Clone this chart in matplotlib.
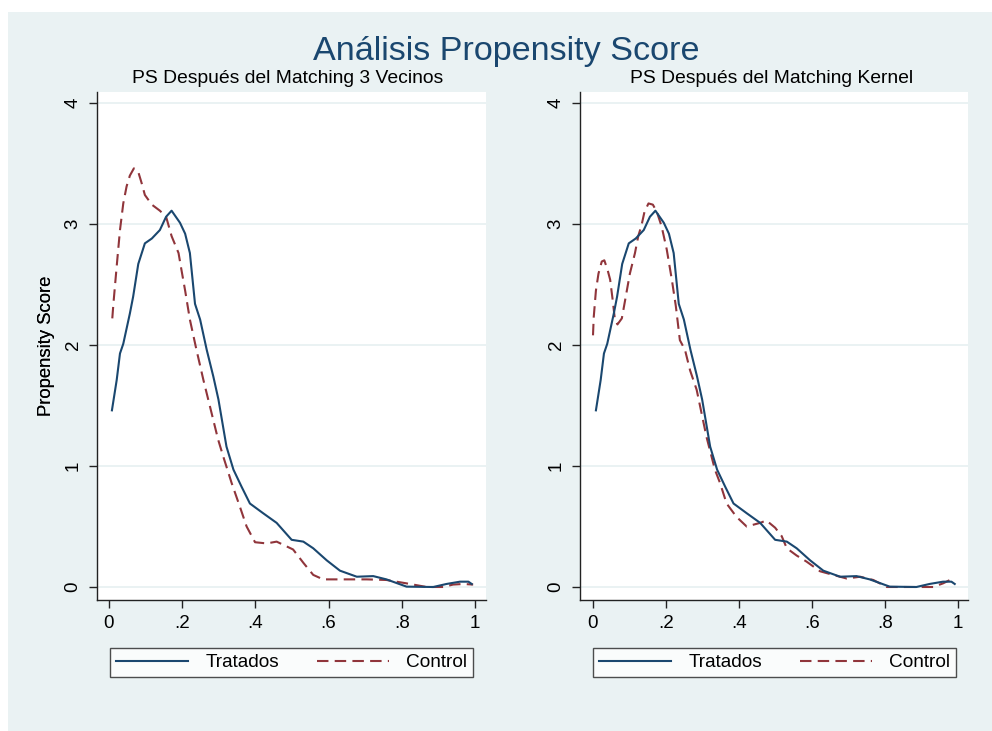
import matplotlib
matplotlib.use("Agg")
import matplotlib.pyplot as plt
from matplotlib.patches import Rectangle

plt.rcParams['font.family'] = ['Liberation Sans', 'DejaVu Sans']

# densidad del propensity score, tratados (igual en los dos paneles)
tratados_x = [0.008, 0.021, 0.030, 0.039, 0.057, 0.066, 0.080, 0.098, 0.117, 0.139,
              0.156, 0.171, 0.194, 0.208, 0.221, 0.235, 0.249, 0.267, 0.285, 0.299,
              0.321, 0.340, 0.362, 0.385, 0.421, 0.458, 0.499, 0.531, 0.558, 0.595,
              0.631, 0.677, 0.722, 0.758, 0.813, 0.886, 0.922, 0.959, 0.982, 0.991]
tratados_y = [1.46, 1.71, 1.93, 2.01, 2.26, 2.40, 2.67, 2.84, 2.88, 2.95,
              3.06, 3.11, 3.01, 2.92, 2.76, 2.34, 2.21, 1.96, 1.74, 1.55,
              1.16, 0.97, 0.83, 0.69, 0.61, 0.53, 0.39, 0.375, 0.32, 0.22,
              0.135, 0.085, 0.09, 0.063, 0.003, 0.0, 0.025, 0.044, 0.044, 0.025]

# control, matching 3 vecinos
control_vec_x = [0.009, 0.012, 0.021, 0.030, 0.039, 0.048, 0.057, 0.068, 0.080, 0.089,
                 0.098, 0.117, 0.139, 0.156, 0.171, 0.190, 0.198, 0.208, 0.221, 0.239,
                 0.258, 0.276, 0.298, 0.312, 0.335, 0.358, 0.376, 0.399, 0.431, 0.458,
                 0.503, 0.531, 0.558, 0.585, 0.649, 0.704, 0.758, 0.813, 0.868, 0.913,
                 0.940, 0.968, 0.995]
control_vec_y = [2.22, 2.34, 2.65, 2.95, 3.17, 3.31, 3.40, 3.46, 3.43, 3.34,
                 3.24, 3.16, 3.11, 3.06, 2.90, 2.76, 2.62, 2.45, 2.21, 1.96,
                 1.71, 1.49, 1.22, 1.08, 0.86, 0.66, 0.50, 0.37, 0.36, 0.375,
                 0.31, 0.20, 0.10, 0.063, 0.063, 0.063, 0.058, 0.03, 0.0, 0.0,
                 0.02, 0.025, 0.02]

# control, matching kernel
control_ker_x = [0.0, 0.002, 0.008, 0.015, 0.024, 0.031, 0.040, 0.047, 0.054, 0.060,
                 0.067, 0.079, 0.088, 0.101, 0.115, 0.124, 0.133, 0.141, 0.152, 0.164,
                 0.175, 0.188, 0.202, 0.216, 0.227, 0.238, 0.252, 0.266, 0.284, 0.311,
                 0.334, 0.348, 0.366, 0.393, 0.421, 0.458, 0.475, 0.499, 0.517, 0.531,
                 0.558, 0.585, 0.622, 0.658, 0.695, 0.732, 0.768, 0.805, 0.868, 0.932,
                 0.959, 0.986]
control_ker_y = [2.08, 2.23, 2.45, 2.59, 2.69, 2.70, 2.62, 2.54, 2.37, 2.21,
                 2.17, 2.22, 2.37, 2.59, 2.76, 2.90, 2.99, 3.10, 3.17, 3.16,
                 3.10, 2.98, 2.79, 2.54, 2.32, 2.04, 1.96, 1.79, 1.63, 1.24,
                 0.97, 0.86, 0.69, 0.58, 0.50, 0.53, 0.55, 0.49, 0.42, 0.32,
                 0.26, 0.21, 0.13, 0.10, 0.07, 0.085, 0.058, 0.0, 0.0, 0.0,
                 0.03, 0.07]

x_ticks = [0, 0.2, 0.4, 0.6, 0.8, 1]
x_labels = ['0', '.2', '.4', '.6', '.8', '1']
y_ticks = [0, 1, 2, 3, 4]
y_labels = ['0', '1', '2', '3', '4']

titulo = 'Análisis Propensity Score'
subtitulos = ['PS Después del Matching 3 Vecinos', 'PS Después del Matching Kernel']

navy = '#1a476f'
maroon = '#90353b'
bg = '#eaf2f3'

W, H = 992, 731
fig = plt.figure(figsize=(W / 100, H / 100), dpi=100, facecolor='white')
# fondo gris azulado estilo stata
fig.patches.append(Rectangle((8 / W, 0), 1 - 8 / W, 1 - 12 / H, transform=fig.transFigure,
                             facecolor=bg, edgecolor='none', zorder=-10))

fig.text(506 / W, 1 - 60 / H, titulo, ha='center', va='baseline', fontsize=24.6, color=navy)

# px -> limites de cada panel
paneles = [
    dict(left=97, right=486, x0=109, scale=366, sub_x=288,
         cx=control_vec_x, cy=control_vec_y, leg=(110, 473)),
    dict(left=580, right=968, x0=593, scale=365, sub_x=772,
         cx=control_ker_x, cy=control_ker_y, leg=(593, 956)),
]
top_px, bot_px = 92, 600
y0_px, yscale = 587, 121

for i, p in enumerate(paneles):
    ax = fig.add_axes([p['left'] / W, (H - bot_px) / H,
                       (p['right'] - p['left']) / W, (bot_px - top_px) / H])
    ax.set_facecolor('white')
    ax.set_xlim((p['left'] - p['x0']) / p['scale'], (p['right'] - p['x0']) / p['scale'])
    ax.set_ylim(-(bot_px - y0_px) / yscale, 4 + (103 - top_px) / yscale)

    for yt in y_ticks:
        ax.axhline(yt, color=bg, lw=1.4, zorder=1)

    ax.plot(tratados_x, tratados_y, color=navy, lw=1.5, label='Tratados', zorder=3)
    ln, = ax.plot(p['cx'], p['cy'], color=maroon, lw=1.5, label='Control', zorder=2)
    ln.set_dashes([5.5, 3])

    for s in ['top', 'right']:
        ax.spines[s].set_visible(False)
    for s in ['left', 'bottom']:
        ax.spines[s].set_color('#222222')
        ax.spines[s].set_linewidth(1.0)

    ax.set_xticks(x_ticks)
    ax.set_xticklabels(x_labels)
    ax.set_yticks(y_ticks)
    ax.set_yticklabels(y_labels, rotation=90, va='center')
    ax.tick_params(axis='both', direction='out', length=6, width=1.0,
                   color='#222222', labelsize=13.5, labelcolor='black')
    ax.tick_params(axis='x', pad=5)
    ax.tick_params(axis='y', pad=5)

    ax.set_ylabel('Propensity Score', fontsize=13.3)
    ax.yaxis.set_label_coords((55 - p['left']) / (p['right'] - p['left']), 0.5)

    fig.text(p['sub_x'] / W, 1 - 83 / H, subtitulos[i], ha='center', va='baseline',
             fontsize=13.9, color='black')

    lx0, lx1 = p['leg']
    leg = ax.legend(loc='center', ncol=2, mode='expand',
                    bbox_to_anchor=(lx0 / W, (H - 679) / H, (lx1 - lx0) / W, 33 / H),
                    bbox_transform=fig.transFigure, frameon=True, fancybox=False,
                    fontsize=13.7, handlelength=3.8, handletextpad=0.9, borderpad=0.3,
                    borderaxespad=0)
    leg.get_frame().set_edgecolor('#222222')
    leg.get_frame().set_linewidth(1.0)

fig.savefig('out.png', dpi=100, facecolor='white')
